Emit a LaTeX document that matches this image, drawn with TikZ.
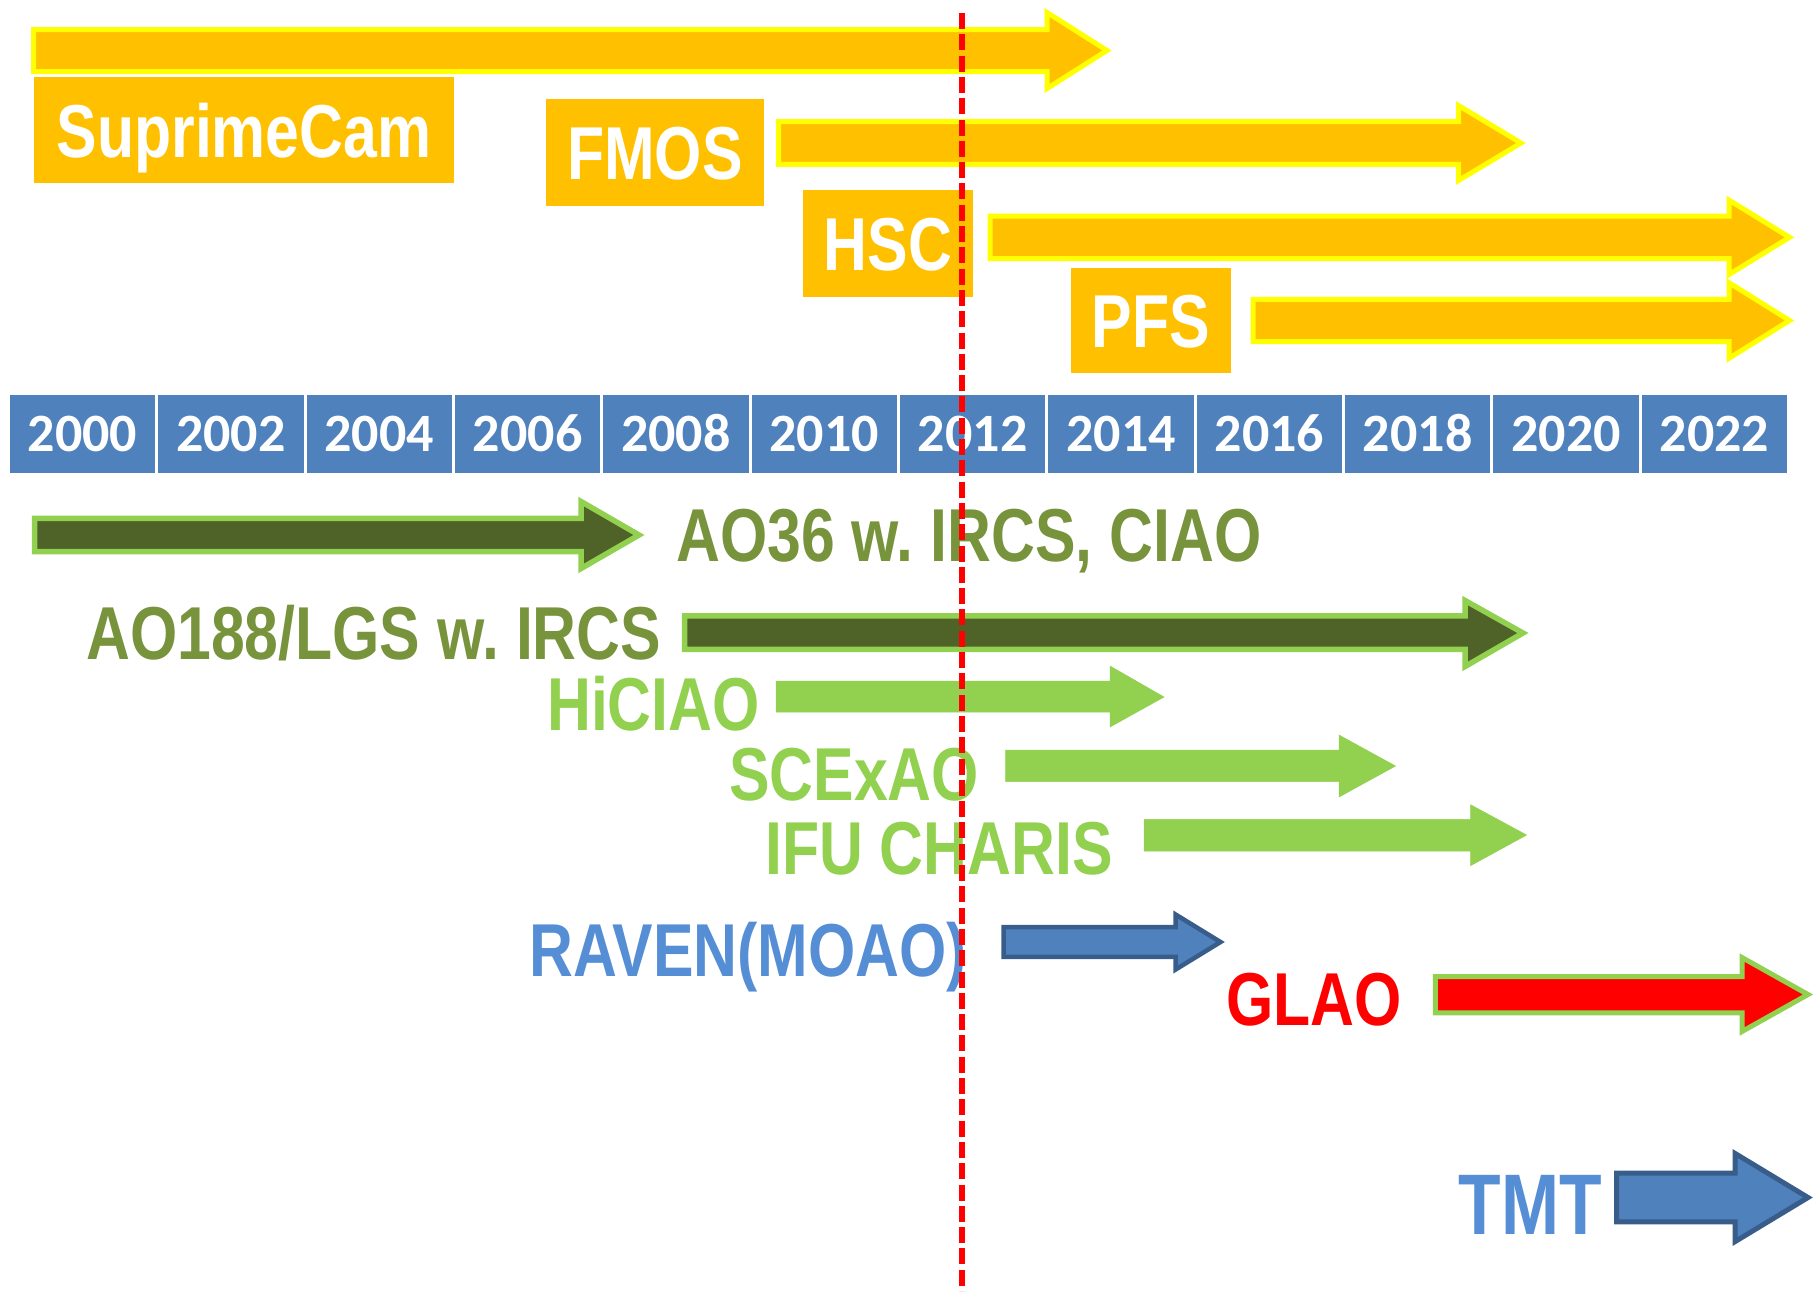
\documentclass[tikz,border=0pt]{standalone}
\usepackage{fontspec}
\usepackage{tikz}
\usetikzlibrary{positioning}
\newfontfamily\labelfont{Liberation Sans}[FakeStretch=0.81]
\newfontfamily\yearfont{Carlito}
\definecolor{goldfill}{HTML}{FFC000}
\definecolor{sunyellow}{HTML}{FFFF00}
\definecolor{olivefill}{HTML}{4F6228}
\definecolor{limegreen}{HTML}{92D050}
\definecolor{olivetext}{HTML}{77933C}
\definecolor{officeblue}{HTML}{4F81BD}
\definecolor{darkblue}{HTML}{385D8A}
\definecolor{skytext}{HTML}{558ED5}
\frenchspacing

\begin{document}
\begin{tikzpicture}[x=1pt, y=-1pt,
  goldarrow/.style={draw=sunyellow, fill=goldfill, line width=5pt, line join=miter},
  olivearrow/.style={draw=limegreen, fill=olivefill, line width=5.5pt, line join=miter},
  limearrow/.style={draw=limegreen, fill=limegreen, line width=0.5pt, line join=miter},
  bluearrow/.style={draw=darkblue, fill=officeblue, line width=4.5pt, line join=miter},
  redarrow/.style={draw=limegreen, fill=red, line width=5pt, line join=miter},
  goldbox/.style={fill=goldfill, text=white, inner sep=0pt, text height=54pt, text depth=0pt,
    font=\labelfont\bfseries\fontsize{75}{80}\selectfont},
  yearbox/.style={fill=officeblue, text=white, inner sep=0pt, minimum width=145.5pt,
    minimum height=78pt, text height=34pt, text depth=0pt,
    font=\yearfont\bfseries\fontsize{54}{60}\selectfont},
  label/.style={anchor=west, inner sep=0pt, text height=54pt, text depth=0pt,
    font=\labelfont\bfseries\fontsize{75}{80}\selectfont},
  todayline/.style={draw=red, line width=5.3pt, dash pattern=on 16pt off 5.3pt}]
\useasboundingbox (0,0) rectangle (1814,1291);

\draw [goldarrow] (33.5,29.5) -- (1047,29.5) -- (1047,12.5) -- (1107,50.5) -- (1047,88.5) -- (1047,71.5) -- (33.5,71.5) -- cycle;
\node [goldbox, minimum width=420pt, minimum height=106pt] (suprimecam) at (244,130) {SuprimeCam};
\draw [goldarrow] (778.5,121.7) -- (1458.5,121.7) -- (1458.5,105.5) -- (1521,143) -- (1458.5,180.5) -- (1458.5,164.3) -- (778.5,164.3) -- cycle;
\node [goldbox, minimum width=218pt, minimum height=107pt] (fmos) at (655,152.5) {FMOS};
\draw [goldarrow] (990,216.1) -- (1729,216.1) -- (1729,200.1) -- (1789.5,237.3) -- (1729,274.5) -- (1729,258.5) -- (990,258.5) -- cycle;
\node [goldbox, minimum width=170pt, minimum height=107pt] (hsc) at (887.8,243.3) {HSC};
\draw [goldarrow] (1253,299.4) -- (1729,299.4) -- (1729,282.7) -- (1789.5,320.5) -- (1729,358.3) -- (1729,341.6) -- (1253,341.6) -- cycle;
\node [goldbox, minimum width=160pt, minimum height=105pt] (pfs) at (1150.8,320.3) {PFS};

\foreach \i [evaluate=\i as \yr using int(2000+2*\i)] in {0,...,11}
  \node [yearbox] (y\yr) at ({82.55+148.35*\i},434) {\yr};

\draw [olivearrow] (34.5,518.3) -- (581,518.3) -- (581,501.5) -- (639,535) -- (581,568.5) -- (581,551.7) -- (34.5,551.7) -- cycle;
\node [label, text=olivetext] (ao36) at (676,534) {AO36 w. IRCS, CIAO};
\node [label, text=olivetext] (ao188) at (86,632) {AO188/LGS w. IRCS};
\draw [olivearrow] (684.5,615.8) -- (1465,615.8) -- (1465,600.5) -- (1523,633) -- (1465,666.5) -- (1465,649.3) -- (684.5,649.3) -- cycle;
\node [label, text=limegreen] (hiciao) at (547,703.5) {HiCIAO};
\draw [limearrow] (776,681) -- (1110,681) -- (1110,666) -- (1164,697) -- (1110,727) -- (1110,712) -- (776,712) -- cycle;
\node [label, text=limegreen] (scexao) at (729,773.5) {SCExAO};
\draw [limearrow] (1005.5,750) -- (1339,750) -- (1339,735) -- (1395.5,766) -- (1339,797) -- (1339,781.5) -- (1005.5,781.5) -- cycle;
\node [label, text=limegreen] (charis) at (765,847) {IFU CHARIS};
\draw [limearrow] (1144,819.4) -- (1470.7,819.4) -- (1470.7,804.8) -- (1526.6,835) -- (1470.7,865.6) -- (1470.7,851) -- (1144,851) -- cycle;

\node [label, text=skytext] (raven) at (529.3,949) {RAVEN(MOAO)};
\draw [bluearrow] (1003.6,927.2) -- (1175.6,927.2) -- (1175.6,914.5) -- (1220.5,942) -- (1175.6,969.5) -- (1175.6,956.8) -- (1003.6,956.8) -- cycle;
\node [label, text=red] (glao) at (1226.4,998.5) {GLAO};
\draw [redarrow] (1435.3,976.5) -- (1742,976.5) -- (1742,957.5) -- (1808,994.5) -- (1742,1031.5) -- (1742,1012.9) -- (1435.3,1012.9) -- cycle;
\node [label, text=skytext, text height=62pt, font=\labelfont\bfseries\fontsize{86}{90}\selectfont] (tmt) at (1458.3,1203.3) {TMT};
\draw [bluearrow, line width=5pt] (1616.5,1173.2) -- (1735.2,1173.2) -- (1735.2,1153.5) -- (1808,1197.5) -- (1735.2,1241.5) -- (1735.2,1221.8) -- (1616.5,1221.8) -- cycle;

\coordinate (now top) at (962,13);
\coordinate (now bottom) at (962,1291);
\draw [todayline] (now top) -- (now bottom);
\end{tikzpicture}
\end{document}
